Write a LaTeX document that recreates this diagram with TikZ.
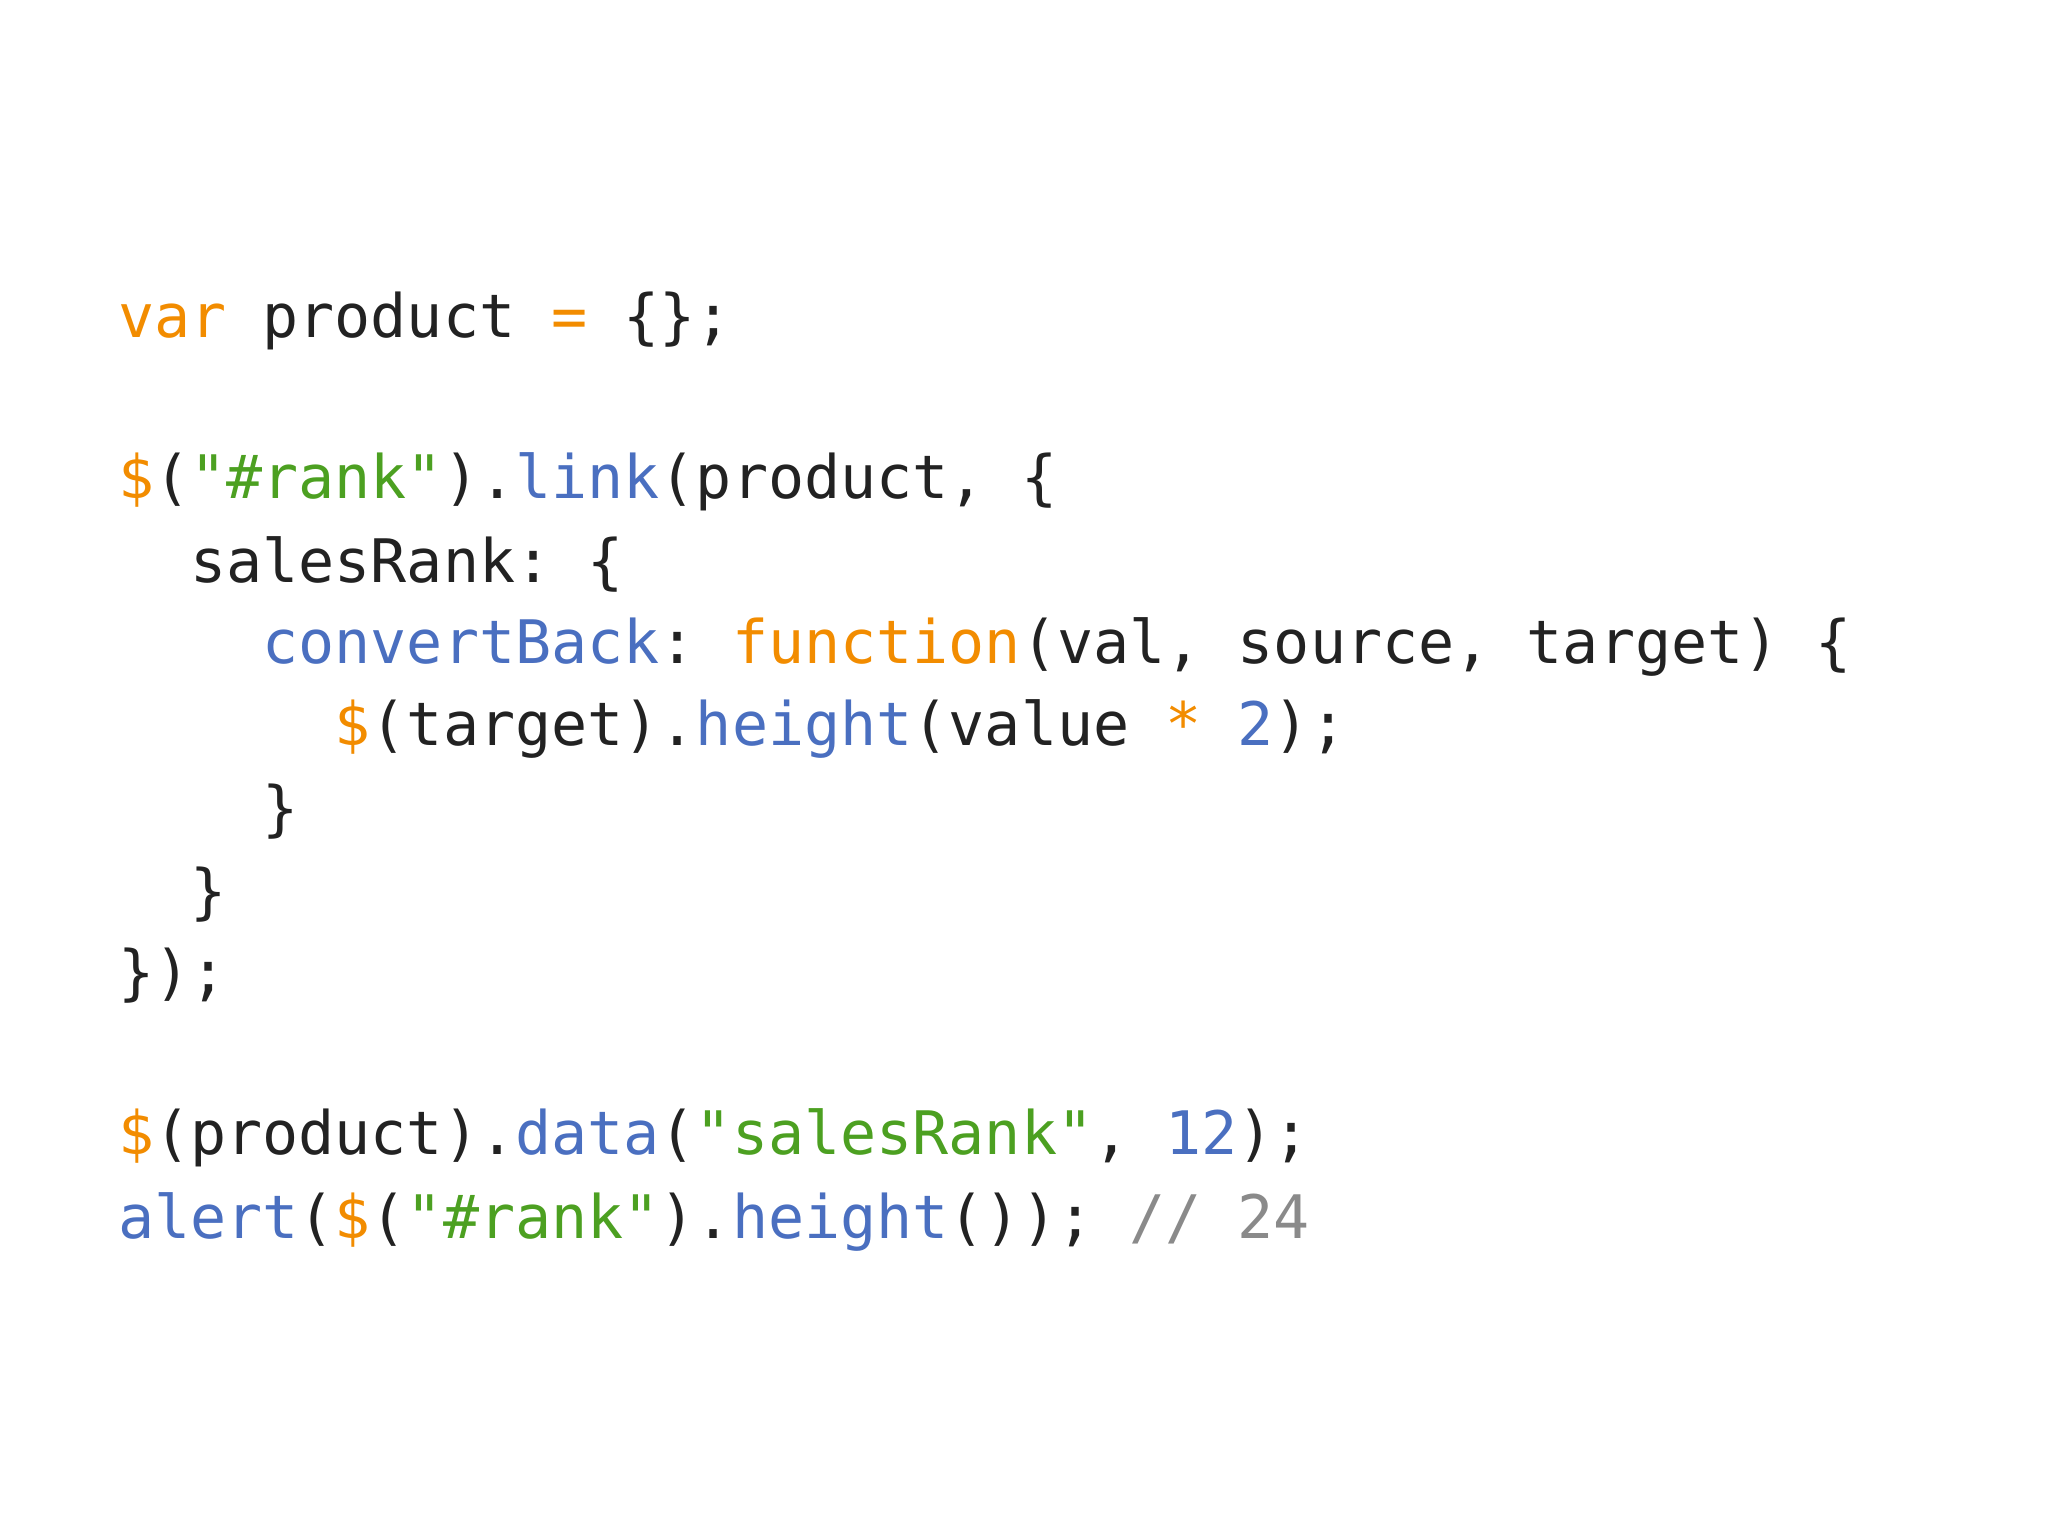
\documentclass[tikz,border=0pt]{standalone}
\usepackage{fontspec}
\setmonofont{DejaVu Sans Mono}
\definecolor{kw}{HTML}{F28C00}
\definecolor{st}{HTML}{4CA021}
\definecolor{fn}{HTML}{4A6FC0}
\definecolor{tx}{HTML}{222222}
\definecolor{cm}{HTML}{8A8A8A}
\newcommand{\K}[1]{\textcolor{kw}{#1}}
\newcommand{\Sg}[1]{\textcolor{st}{#1}}
\newcommand{\F}[1]{\textcolor{fn}{#1}}
\newcommand{\Cm}[1]{\textcolor{cm}{#1}}
\tikzset{codeline/.style={anchor=base west,inner sep=0pt,font=\ttfamily\fontsize{30}{36}\selectfont,text=tx}}
\begin{document}
\begin{tikzpicture}[x=1pt,y=-1pt]
\useasboundingbox (0,0) rectangle (1024,768);
\node[codeline] (l0) at (58.8,168.5) {\K{var} product \K{=} \{\};};
\node[codeline] (l2) at (58.8,249.4) {\K{\$}(\Sg{"\#rank"}).\F{link}(product, \{};
\node[codeline] (l3) at (58.8,291.2) {\ \ salesRank: \{};
\node[codeline] (l4) at (58.8,331.7) {\ \ \ \ \F{convertBack}: \K{function}(val, source, target) \{};
\node[codeline] (l5) at (58.8,372.9) {\ \ \ \ \ \ \K{\$}(target).\F{height}(value \K{*} \F{2});};
\node[codeline] (l6) at (58.8,414.7) {\ \ \ \ \}};
\node[codeline] (l7) at (58.8,456.4) {\ \ \}};
\node[codeline] (l8) at (58.8,496.9) {\});};
\node[codeline] (l10) at (58.8,577.3) {\K{\$}(product).\F{data}(\Sg{"salesRank"}, \F{12});};
\node[codeline] (l11) at (58.8,619.0) {\F{alert}(\K{\$}(\Sg{"\#rank"}).\F{height}()); \Cm{// 24}};
\end{tikzpicture}
\end{document}
